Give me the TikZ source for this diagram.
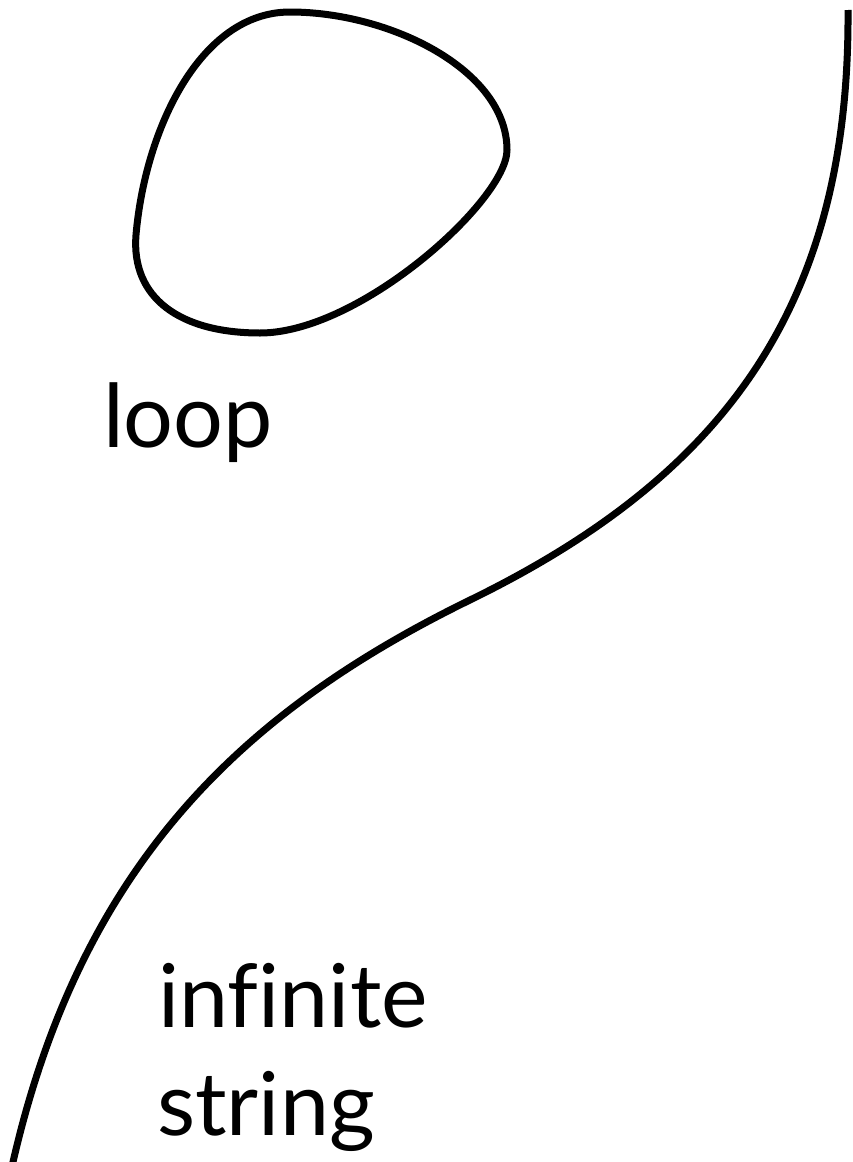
\documentclass[tikz,border=0pt]{standalone}
\usepackage{fontspec}
\setmainfont[Ligatures=CommonOff]{Lato}
\begin{document}
\begin{tikzpicture}[x=1pt,y=-1pt,
  curve/.style={line width=7pt, black},
  label/.style={inner sep=0pt, anchor=base west, font=\fontsize{88}{108}\selectfont}]
\useasboundingbox[fill=white] (0,0) rectangle (853,1162);
\begin{scope}
\clip (0,0) rectangle (853,1162);
% closed loop
\coordinate (T) at (290,12);
\coordinate (R) at (507,150);
\coordinate (B) at (260,333);
\coordinate (L) at (136,235);
\draw[curve] (T) .. controls (390,12) and (507,70) .. (R)
  .. controls (507,200) and (360,333) .. (B)
  .. controls (180,333) and (131,298) .. (L)
  .. controls (145,130) and (200,12) .. (T) -- cycle;
% infinite string
\coordinate (top) at (848,10);
\coordinate (mid) at (470,600);
\coordinate (bot) at (13,1162);
\coordinate (end) at (9,1180);
\draw[curve] (top) .. controls (850,308) and (722,477) .. (mid)
  .. controls (245,710) and (82,862) .. (bot) -- (end);
\end{scope}
\node[label] (loop) at (103,447) {loop};
\node[label] (inf) at (158,1027) {infinite};
\node[label] (str) at (157,1135) {string};
\end{tikzpicture}
\end{document}
